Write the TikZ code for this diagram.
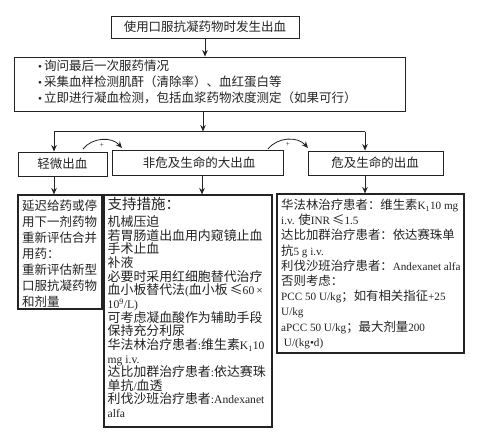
\documentclass[tikz,border=0pt]{standalone}
\usepackage{fontspec}
\setmainfont{Noto Sans CJK SC}
\newfontfamily\latinfont[Scale=0.9]{Liberation Serif}
\newcommand{\lt}[1]{{\latinfont #1}}
\newcommand{\fsz}[2]{\fontsize{#1}{#2}\selectfont}
\usetikzlibrary{arrows.meta}
\definecolor{ink}{RGB}{35,35,35}
\begin{document}
\begin{tikzpicture}[x=1pt,y=-1pt,
  box/.style={draw=ink, line width=0.9pt, inner sep=0pt, fill=white, text=ink},
  lowbox/.style={box, line width=1.1pt},
  arr/.style={draw=ink, line width=0.9pt, -{Stealth[length=6.5pt,width=5.5pt]}},
  txt/.style={inner sep=0pt, align=left, anchor=north west, text=ink},
  lbl/.style={inner sep=0pt, text=ink, font=\fsz{12.5}{14}}]
\useasboundingbox[fill=white] (0,0) rectangle (483,437);

% top
\node[box, minimum width=188pt, minimum height=22pt, font=\fsz{12.5}{14}] (top) at (205,27) {使用口服抗凝药物时发生出血};

% info box
\node[box, minimum width=391pt, minimum height=54pt] (info) at (209.5,84) {};
\node[txt, font=\fsz{12.5}{16}] (infot) at (38,59.5)
  {\lt{•}\,询问最后一次服药情况\\
   \lt{•}\,采集血样检测肌酐（清除率）、血红蛋白等\\
   \lt{•}\,立即进行凝血检测，包括血浆药物浓度测定（如果可行）};

% level boxes
\node[box, minimum width=89pt, minimum height=24pt] (mild) at (62.5,164) {};
\node[lbl] (mildt) at (62.5,164) {轻微出血};
\node[box, minimum width=171pt, minimum height=25pt] (major) at (197.5,162.5) {};
\node[lbl] (majort) at (199,163) {非危及生命的大出血};
\node[box, minimum width=135pt, minimum height=24pt] (severe) at (375.5,163) {};
\node[lbl] (severet) at (375,163) {危及生命的出血};

% lower boxes
\node[lowbox, minimum width=84pt, minimum height=114pt] (lowl) at (60,252) {};
\node[txt, font=\fsz{12.5}{16}] (lowlt) at (22,199.7)
  {延迟给药或停\\用下一剂药物\\重新评估合并\\用药：\\重新评估新型\\口服抗凝药物\\和剂量};

\node[lowbox, minimum width=168pt, minimum height=232pt] (lowm) at (188,311) {};
\node[txt, font=\fsz{14.5}{16}] (lowmh) at (107.5,196.7) {支持措施：};
\node[txt, font=\fsz{12.9}{13.64}] (lowmt) at (107.5,215.6)
  {机械压迫\\
   若胃肠道出血用内窥镜止血\\
   手术止血\\
   补液\\
   必要时采用红细胞替代治疗\\
   血小板替代法\lt{(}血小板\,≤\lt{60\,×}\\
   \lt{10\textsuperscript{9}/L)}\\
   可考虑凝血酸作为辅助手段\\
   保持充分利尿\\
   华法林治疗患者\lt{:}维生素\lt{K\textsubscript{1}10}\\
   \lt{mg i.v.}\\
   达比加群治疗患者\lt{:}依达赛珠\\
   单抗\lt{/}血透\\
   利伐沙班治疗患者\lt{:Andexanet}\\
   \lt{alfa}};

\node[lowbox, minimum width=187pt, minimum height=159pt] (lowr) at (370.5,273.5) {};
\node[txt, font=\fsz{12.4}{15.2}] (lowrt) at (281,198.8)
  {华法林治疗患者：维生素\lt{K\textsubscript{1}10 mg}\\
   \lt{i.v.} 使\lt{INR}\,≤\lt{1.5}\\
   达比加群治疗患者：依达赛珠单\\
   抗\lt{5 g i.v.}\\
   利伐沙班治疗患者：\lt{Andexanet alfa}\\
   否则考虑：\\
   \lt{PCC 50 U/kg}；如有相关指征\lt{+25}\\
   \lt{U/kg}\\
   \lt{aPCC 50 U/kg}；最大剂量\lt{200}\\
   \lt{\ U/(kg•d)}};

% connectors
\draw[arr] (top.south) -- (top.south |- info.north);
\coordinate (split) at (203,131.5);
\coordinate (hl) at (54,131.5);
\coordinate (hr) at (365,131.5);
\draw[arr] (split |- info.south) -- (split);
\draw[draw=ink, line width=0.9pt] (hl) -- (hr);
\draw[arr] (hl) -- (hl |- mild.north);
\draw[arr] (hr) -- (hr |- severe.north);

\coordinate (ml) at (54,176);
\coordinate (mm) at (202,175);
\coordinate (mr) at (365,175);
\draw[arr] (ml) -- (ml |- lowl.north);
\draw[arr] (mm) -- (mm |- lowm.north);
\draw[arr] (mr) -- (mr |- lowr.north);

% escalation arrows
\coordinate (c1s) at (83,149);
\coordinate (c1e) at (122,148);
\coordinate (c2s) at (268,149);
\coordinate (c2e) at (308,148);
\draw[arr, line width=0.8pt] (c1s) to[bend left=50] (c1e);
\draw[arr, line width=0.8pt] (c2s) to[bend left=50] (c2e);
\node[inner sep=0pt, text=ink, font=\fsz{8}{8}] (p1) at (102,145) {\lt{+}};
\node[inner sep=0pt, text=ink, font=\fsz{8}{8}] (p2) at (288,144) {\lt{+}};
\end{tikzpicture}
\end{document}
